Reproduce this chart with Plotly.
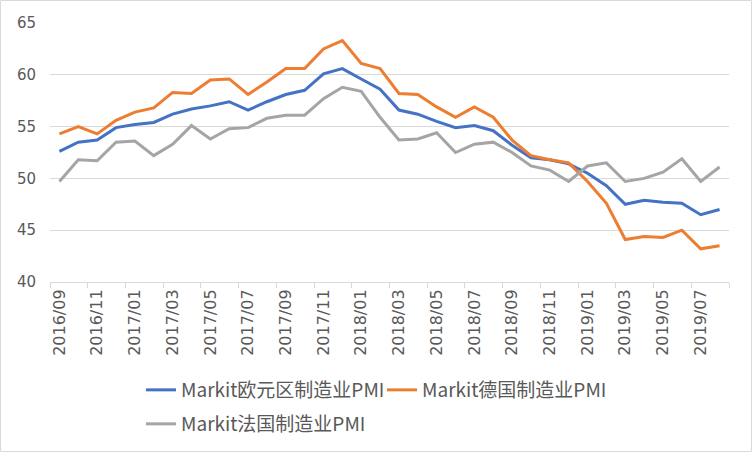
import plotly.graph_objects as go

months = ["2016/09","2016/10","2016/11","2016/12",
          "2017/01","2017/02","2017/03","2017/04","2017/05","2017/06","2017/07","2017/08","2017/09","2017/10","2017/11","2017/12",
          "2018/01","2018/02","2018/03","2018/04","2018/05","2018/06","2018/07","2018/08","2018/09","2018/10","2018/11","2018/12",
          "2019/01","2019/02","2019/03","2019/04","2019/05","2019/06","2019/07","2019/08"]

eurozone = [52.6, 53.5, 53.7, 54.9, 55.2, 55.4, 56.2, 56.7, 57.0, 57.4, 56.6, 57.4, 58.1, 58.5, 60.1, 60.6,
            59.6, 58.6, 56.6, 56.2, 55.5, 54.9, 55.1, 54.6, 53.2, 52.0, 51.8, 51.4,
            50.5, 49.3, 47.5, 47.9, 47.7, 47.6, 46.5, 47.0]
germany = [54.3, 55.0, 54.3, 55.6, 56.4, 56.8, 58.3, 58.2, 59.5, 59.6, 58.1, 59.3, 60.6, 60.6, 62.5, 63.3,
           61.1, 60.6, 58.2, 58.1, 56.9, 55.9, 56.9, 55.9, 53.7, 52.2, 51.8, 51.5,
           49.7, 47.6, 44.1, 44.4, 44.3, 45.0, 43.2, 43.5]
france = [49.7, 51.8, 51.7, 53.5, 53.6, 52.2, 53.3, 55.1, 53.8, 54.8, 54.9, 55.8, 56.1, 56.1, 57.7, 58.8,
          58.4, 55.9, 53.7, 53.8, 54.4, 52.5, 53.3, 53.5, 52.5, 51.2, 50.8, 49.7,
          51.2, 51.5, 49.7, 50.0, 50.6, 51.9, 49.7, 51.1]

names = ["Markit欧元区制造业PMI", "Markit德国制造业PMI", "Markit法国制造业PMI"]
colors = ["#4472C4", "#ED7D31", "#A5A5A5"]
y_ticks = [40, 45, 50, 55, 60, 65]

fig = go.Figure()
for vals, name, col, leg in zip([eurozone, germany, france], names, colors, ["legend", "legend", "legend2"]):
    fig.add_trace(go.Scatter(x=months, y=vals, name=name, mode="lines",
                             line=dict(color=col, width=3), legend=leg))

W, H = 752, 452
ml, mr, mt, mb = 50, 23, 23, 170
pw, ph = W - ml - mr, H - mt - mb

tickfam = "DejaVu Sans"
legfont = dict(family="Noto Sans CJK SC", size=19, color="#595959")
fig.update_layout(
    width=W, height=H,
    margin=dict(l=ml, r=mr, t=mt, b=mb),
    plot_bgcolor="white", paper_bgcolor="white",
    font=dict(family=tickfam, color="#595959"),
    legend=dict(orientation="h", xref="container", yref="container",
                x=141/W, y=1 - 371/H, xanchor="left", yanchor="top",
                font=legfont, entrywidth=196, itemwidth=30, bgcolor="rgba(0,0,0,0)"),
    legend2=dict(orientation="h", xref="container", yref="container",
                 x=141/W, y=1 - 405/H, xanchor="left", yanchor="top",
                 font=legfont, itemwidth=30, bgcolor="rgba(0,0,0,0)"),
    xaxis=dict(type="category", tickson="boundaries", dtick=2, tick0=0,
               range=[-0.5, len(months) - 0.5],
               tickangle=-90, tickfont=dict(family=tickfam, size=16, color="#595959"),
               showgrid=False, showline=True, linecolor="#D9D9D9", linewidth=1,
               ticks="outside", ticklen=5, tickcolor="#D9D9D9", automargin=False),
    yaxis=dict(range=[40, 65], tickvals=y_ticks, showgrid=True, gridcolor="#D9D9D9",
               gridwidth=1, zeroline=False, showline=False, automargin=False,
               tickfont=dict(family=tickfam, size=15, color="#595959"),
               ticks="", ticklabelstandoff=13),
    shapes=[dict(type="rect", xref="paper", yref="paper",
                 x0=-(ml - 0.5) / pw, x1=1 + (mr - 0.5) / pw,
                 y0=-(mb - 0.5) / ph, y1=1 + (mt - 0.5) / ph,
                 line=dict(color="#D9D9D9", width=1), layer="below")],
)

fig.write_html("out.html", config={"displayModeBar": False},
               post_script="document.body.style.margin='0';document.body.style.overflow='hidden';")
